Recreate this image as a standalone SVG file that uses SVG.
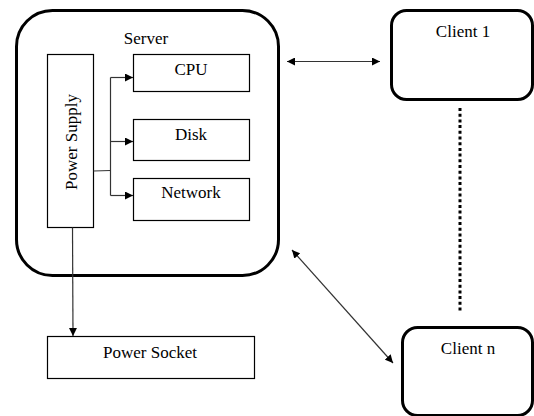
<svg xmlns="http://www.w3.org/2000/svg" width="534" height="416" viewBox="0 0 534 416">
<defs>
<style>
.thick{fill:#fff;stroke:#000;stroke-width:3}
.box{fill:#fff;stroke:#000;stroke-width:1.2}
.ln{fill:none;stroke:#333;stroke-width:1.2}
text{font-family:'Liberation Serif','Times New Roman',serif;font-size:17px;fill:#000;text-anchor:middle}
</style>
<marker id="ah" viewBox="0 0 10 10" refX="10" refY="5" markerWidth="8" markerHeight="8" markerUnits="userSpaceOnUse" orient="auto-start-reverse">
<path d="M0,0 L10,5 L0,10 z" fill="#000"/>
</marker>
</defs>
<g id="server">
<rect class="thick" x="16.5" y="10.5" width="262" height="265" rx="36" ry="36"/>
<text x="146" y="44">Server</text>
</g>
<g id="power-supply">
<rect class="box" x="47.5" y="54.5" width="46" height="173"/>
<text transform="translate(76.5,142) rotate(-90)">Power Supply</text>
</g>
<g id="cpu">
<rect class="box" x="133.5" y="54.5" width="116" height="37"/>
<text x="191" y="75">CPU</text>
</g>
<g id="disk">
<rect class="box" x="133.5" y="119.5" width="116" height="41"/>
<text x="191" y="140">Disk</text>
</g>
<g id="network">
<rect class="box" x="133.5" y="178.5" width="116" height="42"/>
<text x="191" y="198">Network</text>
</g>
<g id="power-socket">
<rect class="box" x="47.5" y="336.5" width="207" height="42"/>
<text x="150" y="358">Power Socket</text>
</g>
<g id="client1">
<rect class="thick" x="391.5" y="10.5" width="141" height="89" rx="15" ry="15"/>
<text x="463" y="37">Client 1</text>
</g>
<g id="clientn">
<rect class="thick" x="402.5" y="327.5" width="130" height="88" rx="15" ry="15"/>
<text x="468" y="354">Client n</text>
</g>
<g id="connectors">
<path class="ln" d="M93.5,171 L110.5,170.5"/>
<path class="ln" d="M110.5,77.5 L110.5,195.5"/>
<path class="ln" d="M110.5,77.5 L133,77.5" marker-end="url(#ah)"/>
<path class="ln" d="M110.5,141.5 L133,141.5" marker-end="url(#ah)"/>
<path class="ln" d="M110.5,195.5 L133,195.5" marker-end="url(#ah)"/>
<path class="ln" d="M72.5,227.5 L73,336" marker-end="url(#ah)"/>
<path class="ln" d="M287,61.5 L380,61.5" marker-start="url(#ah)" marker-end="url(#ah)"/>
<path class="ln" d="M292,250 L393,363" marker-start="url(#ah)" marker-end="url(#ah)"/>
<path d="M460,108 L460,313" fill="none" stroke="#000" stroke-width="3" stroke-dasharray="3 2.7"/>
</g>
</svg>
